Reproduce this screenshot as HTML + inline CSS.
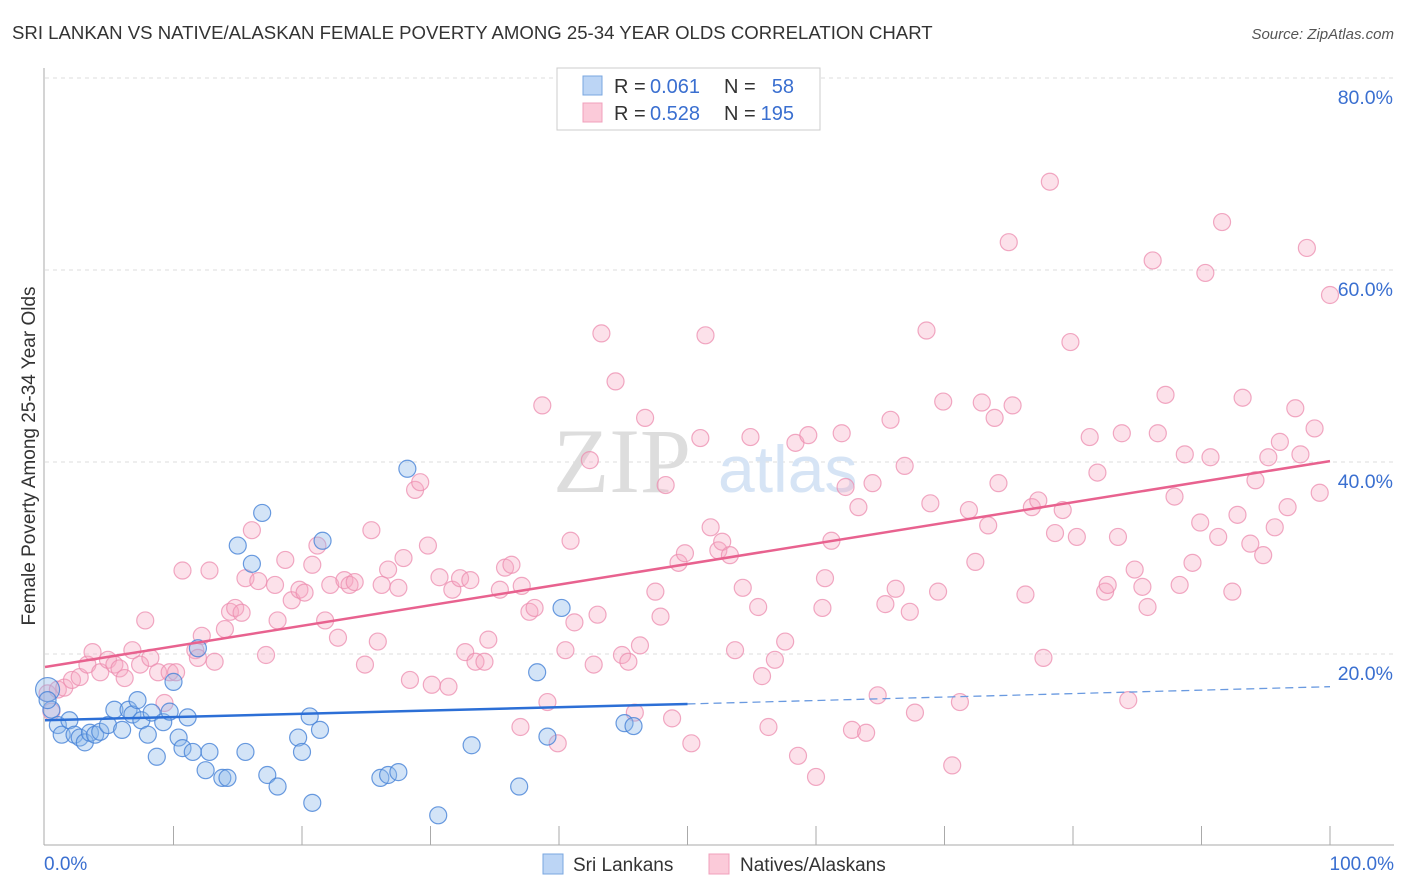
<!DOCTYPE html>
<html><head><meta charset="utf-8"><style>
body{margin:0;background:#fff;font-family:"Liberation Sans",sans-serif;}
svg{display:block}
</style></head><body>
<svg id="chart" width="1406" height="892" xmlns="http://www.w3.org/2000/svg" font-family="Liberation Sans, sans-serif">
<text x="12" y="39" font-size="18.6" fill="#333">SRI LANKAN VS NATIVE/ALASKAN FEMALE POVERTY AMONG 25-34 YEAR OLDS CORRELATION CHART</text>
<text x="1394" y="39" font-size="15" fill="#555" font-style="italic" text-anchor="end">Source: ZipAtlas.com</text>
<g id="grid"></g>
<g><text x="553" y="492" font-size="92" fill="#ddd" font-family="Liberation Serif, serif">ZIP</text><text x="718" y="492" font-size="66" fill="#d6e4f5">atlas</text></g>
<g id="axes"></g>
<g id="pink"></g>
<g id="blue"></g>
<g id="lines"></g>
<text transform="translate(35,456) rotate(-90)" font-size="19" fill="#333" text-anchor="middle">Female Poverty Among 25-34 Year Olds</text>
<g>
<rect x="557" y="68" width="263" height="62" fill="#fff" stroke="#ccc"/>
<rect x="583" y="76" width="19" height="19" fill="#bcd5f5" stroke="#7aa7e0"/>
<rect x="583" y="103" width="19" height="19" fill="#fbcad9" stroke="#f0a0bc"/>
<text x="614" y="93" font-size="20" fill="#333">R =</text>
<text x="650" y="93" font-size="20" fill="#3a6fd0">0.061</text>
<text x="724" y="93" font-size="20" fill="#333">N =</text>
<text x="794" y="93" font-size="20" fill="#3a6fd0" text-anchor="end">58</text>
<text x="614" y="120" font-size="20" fill="#333">R =</text>
<text x="650" y="120" font-size="20" fill="#3a6fd0">0.528</text>
<text x="724" y="120" font-size="20" fill="#333">N =</text>
<text x="794" y="120" font-size="20" fill="#3a6fd0" text-anchor="end">195</text>
</g>
<g>
<rect x="543" y="854" width="20" height="20" fill="#bcd5f5" stroke="#7aa7e0"/>
<text x="573" y="871" font-size="19" fill="#333">Sri Lankans</text>
<rect x="709" y="854" width="20" height="20" fill="#fbcad9" stroke="#f0a0bc"/>
<text x="740" y="871" font-size="19" fill="#333">Natives/Alaskans</text>
</g>
</svg>
<script>
const yTicks=[20,40,60,80];
const yTickLabels=["20.0%","40.0%","60.0%","80.0%"];
const xTickLabels=["0.0%","100.0%"];
const blueX=[0.2,0.5,1.0,1.3,1.9,2.3,2.7,3.1,3.5,3.9,4.3,4.9,5.4,6.0,6.5,6.8,7.2,7.5,8.0,8.3,8.7,9.2,9.7,10.0,10.4,10.7,11.1,11.5,11.9,12.5,12.8,13.8,14.2,15.0,15.6,16.1,16.9,17.3,18.1,19.7,20.0,20.6,20.8,21.4,21.6,26.1,26.7,27.5,28.2,30.6,33.2,36.9,38.3,39.1,40.2,45.1,45.8,0.2];
const blueY=[16.4,14.3,12.7,11.7,13.2,11.7,11.4,10.9,11.9,11.7,12.0,12.7,14.3,12.2,14.3,13.8,15.3,13.2,11.7,14.0,9.4,13.0,14.1,17.2,11.4,10.3,13.5,9.9,20.7,8.0,9.9,7.2,7.2,31.4,9.9,29.5,34.8,7.5,6.3,11.4,9.9,13.6,4.6,12.2,31.9,7.2,7.5,7.8,39.4,3.3,10.6,6.3,18.2,11.5,24.9,12.9,12.6,15.3];
const pinkX=[0.2,0.5,1.0,1.5,2.1,2.7,3.3,3.7,4.3,4.9,5.4,5.8,6.2,6.8,7.4,7.8,8.2,8.8,9.3,9.7,10.2,10.7,11.7,11.9,12.2,12.8,13.2,14.0,14.4,14.8,15.3,15.6,16.1,16.6,17.2,17.9,18.1,18.7,19.2,19.8,20.2,20.8,21.2,21.8,22.2,22.8,23.3,23.7,24.1,24.9,25.4,25.9,26.2,26.7,27.5,27.9,28.4,28.8,29.2,29.8,30.1,30.7,31.4,31.7,32.3,32.7,33.1,33.5,34.5,34.2,35.4,35.8,36.3,37.0,37.1,37.7,38.1,38.7,39.1,39.9,40.5,40.9,41.2,42.4,42.7,43.0,43.3,44.4,44.9,45.4,45.9,46.3,46.7,47.5,47.9,48.3,48.8,49.3,49.8,50.3,51.0,51.4,51.8,52.4,52.7,53.3,53.7,54.3,54.9,55.5,55.8,56.3,56.8,57.6,58.4,58.6,59.4,60.0,60.5,60.7,61.2,62.0,62.3,62.8,63.3,63.9,64.4,64.8,65.4,65.8,66.2,66.9,67.3,67.7,68.6,68.9,69.5,69.9,70.6,71.2,71.9,72.4,72.9,73.4,73.9,74.2,75.0,75.3,76.3,76.8,77.3,77.7,78.2,78.6,79.2,79.8,80.3,81.3,81.9,82.5,82.7,83.8,83.5,84.3,84.8,85.4,85.8,86.2,86.6,87.9,87.2,88.3,88.7,89.3,89.9,90.3,90.7,91.3,91.6,92.4,92.8,93.2,93.8,94.2,94.8,95.2,95.7,96.1,96.7,97.3,97.7,98.2,98.8,99.2,100];
const pinkY=[16.0,14.1,16.4,16.6,17.4,17.7,19.0,20.3,18.2,19.5,19.0,18.6,17.6,20.5,19.0,23.6,19.7,18.2,15.0,18.2,18.2,28.8,20.5,19.7,22.0,28.8,19.3,22.7,24.5,24.9,24.4,28.0,33.0,27.7,20.0,27.3,23.6,29.9,25.7,26.8,26.5,29.4,31.4,23.6,27.3,21.8,27.8,27.3,27.6,19.0,33.0,21.4,27.3,28.9,27.0,30.1,17.4,37.2,38.0,31.4,16.9,28.1,16.7,26.8,28.0,20.3,27.8,19.3,21.6,19.3,26.8,29.1,29.4,12.5,27.2,24.5,24.9,46.0,15.1,10.8,20.5,31.9,23.4,40.3,19.0,24.2,53.5,48.5,20.0,19.3,14.0,21.0,44.7,26.6,24.0,37.7,13.4,29.6,30.6,10.8,42.6,53.3,33.3,30.9,31.8,30.4,20.5,27.0,42.7,25.0,17.8,12.5,19.5,21.4,42.1,9.5,42.9,7.3,24.9,28.0,31.9,43.1,37.5,12.2,35.4,11.9,37.9,15.8,25.3,44.5,26.9,39.7,24.5,14.0,53.8,35.8,26.6,46.4,8.5,15.1,35.1,29.7,46.3,33.5,44.7,37.9,63.0,46.0,26.3,35.4,36.1,19.7,69.3,32.7,35.1,52.6,32.3,42.7,39.0,26.6,27.3,43.1,32.3,15.3,28.9,27.1,25.0,61.1,43.1,36.5,47.1,27.3,40.9,29.6,33.8,59.8,40.6,32.3,65.1,26.6,34.6,46.8,31.6,38.2,30.4,40.6,33.3,42.2,35.4,45.7,40.9,62.4,43.6,36.9,57.5];
const blueTrend=[13.2,14.9,16.7]; // y at x=0,50,100
const pinkTrend=[18.75,40.2];   // y at x=0,100

const NS="http://www.w3.org/2000/svg";
const X0=45,X1=1330,Y0=847,YS=9.6;
const sx=v=>X0+(X1-X0)*v/100, sy=v=>Y0-v*YS;
function mk(tag,attrs,parent){const e=document.createElementNS(NS,tag);for(const k in attrs)e.setAttribute(k,attrs[k]);parent.appendChild(e);return e;}
const grid=document.getElementById('grid'),axes=document.getElementById('axes');
yTicks.forEach((t,i)=>{
  const l=mk('line',{x1:45,x2:1394,y1:sy(t)-1,y2:sy(t)-1,stroke:'#ddd','stroke-dasharray':'4,4'},grid);
  
  
  const tx=mk('text',{x:1393,y:sy(t)+25,'font-size':19.5,fill:'#3a6fd0','text-anchor':'end'},axes);
  tx.textContent=yTickLabels[i];
  
  
});
mk('line',{x1:44,x2:44,y1:68,y2:845,stroke:'#aaa'},axes);
mk('line',{x1:44,x2:1394,y1:845,y2:845,stroke:'#aaa'},axes);
for(let i=1;i<=10;i++){const x=sx(i*10);const t=mk('line',{x1:x,x2:x,y1:826,y2:845,stroke:'#aaa'},axes);
  
  }
const xl0=mk('text',{x:44,y:870,'font-size':19,fill:'#3a6fd0'},axes);xl0.textContent=xTickLabels[0];


const xl1=mk('text',{x:1394,y:870,'font-size':19,fill:'#3a6fd0','text-anchor':'end'},axes);xl1.textContent=xTickLabels[1];


const pg=document.getElementById('pink');
pinkX.forEach((v,i)=>{const c=mk('circle',{cx:sx(v),cy:sy(pinkY[i]),r:8.5,fill:'rgba(246,170,196,0.35)',stroke:'rgba(236,140,175,0.75)','stroke-width':1.2},pg);
  
  });
const bg=document.getElementById('blue');
blueX.forEach((v,i)=>{const c=mk('circle',{cx:sx(v),cy:sy(blueY[i]),r:i===0?12:8.5,fill:'rgba(140,185,235,0.38)',stroke:'rgba(70,130,215,0.8)','stroke-width':1.2},bg);
  
  });
const lg=document.getElementById('lines');
const pl=mk('line',{x1:sx(0),y1:sy(pinkTrend[0]),x2:sx(100),y2:sy(pinkTrend[1]),stroke:'#e8628f','stroke-width':2.5},lg);


const bl=mk('line',{x1:sx(0),y1:sy(blueTrend[0]),x2:sx(50),y2:sy(blueTrend[1]),stroke:'#2c6fd6','stroke-width':2.5},lg);


const bd=mk('line',{x1:sx(50),y1:sy(blueTrend[1]),x2:sx(100),y2:sy(blueTrend[2]),stroke:'#6a9ae0','stroke-width':1.3,'stroke-dasharray':'8,5'},lg);


</script>
</body></html>
